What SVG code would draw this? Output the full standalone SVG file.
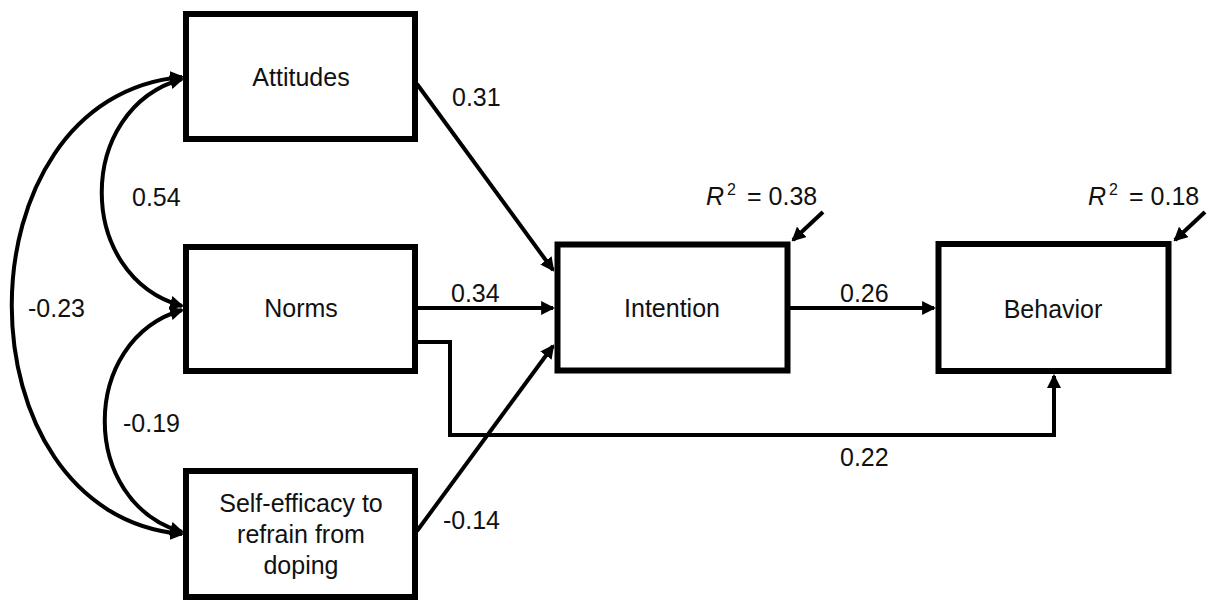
<svg xmlns="http://www.w3.org/2000/svg" width="1208" height="601" viewBox="0 0 1208 601">
<style>
.box{fill:#fff;stroke:#000;stroke-width:6}
.c{fill:none;stroke:#000;stroke-width:4}
.t{font-family:"Liberation Sans",Arial,sans-serif;font-size:25px;fill:#111}
.m{text-anchor:middle}
</style>
<defs>
<marker id="ah" viewBox="0 0 10 10" refX="8.5" refY="5" markerUnits="userSpaceOnUse" markerWidth="14" markerHeight="14" orient="auto-start-reverse">
<path d="M0,0 L10,5 L0,10 z" fill="#000"/>
</marker>
</defs>
<rect width="1208" height="601" fill="#fff"/>
<g id="connectors">
<path class="c" d="M182,79 C75,109 75,276 182,306" marker-start="url(#ah)" marker-end="url(#ah)"/>
<path class="c" d="M182,310 C79,340 79,502 182,532" marker-start="url(#ah)" marker-end="url(#ah)"/>
<path class="c" d="M182,77 C-45,97 -45,514 182,534" marker-start="url(#ah)" marker-end="url(#ah)"/>
<path class="c" d="M417,84 L553,270" marker-end="url(#ah)"/>
<path class="c" d="M417,308 L553,308" marker-end="url(#ah)"/>
<path class="c" d="M417,531 L553,346" marker-end="url(#ah)"/>
<path class="c" d="M790,308 L934,308" marker-end="url(#ah)"/>
<path class="c" d="M417,342 L450,342 L450,435 L1054,435 L1054,376" marker-end="url(#ah)"/>
<path class="c" d="M823,212 L793,240" marker-end="url(#ah)"/>
<path class="c" d="M1205,212 L1175,240" marker-end="url(#ah)"/>
<text class="t" x="452" y="106">0.31</text>
<text class="t" x="132" y="206">0.54</text>
<text class="t" x="28" y="317">-0.23</text>
<text class="t" x="123" y="432">-0.19</text>
<text class="t" x="451" y="302">0.34</text>
<text class="t" x="840" y="302">0.26</text>
<text class="t" x="840" y="466">0.22</text>
<text class="t" x="443" y="529">-0.14</text>
<text class="t" y="205"><tspan x="706" font-style="italic">R</tspan><tspan x="727" y="195" font-size="16">2</tspan><tspan x="747" y="205">= 0.38</tspan></text>
<text class="t" y="205"><tspan x="1088" font-style="italic">R</tspan><tspan x="1109" y="195" font-size="16">2</tspan><tspan x="1129" y="205">= 0.18</tspan></text>
</g>
<g id="attitudes"><rect class="box" x="186" y="14" width="229" height="125"/><text class="t m" x="301" y="86">Attitudes</text></g>
<g id="norms"><rect class="box" x="186" y="247" width="229" height="124"/><text class="t m" x="301" y="317">Norms</text></g>
<g id="selfefficacy"><rect class="box" x="186" y="471" width="229" height="126"/><text class="t m" x="301" y="512">Self-efficacy to</text><text class="t m" x="301" y="543">refrain from</text><text class="t m" x="301" y="574">doping</text></g>
<g id="intention"><rect class="box" x="557.5" y="244.5" width="230" height="126"/><text class="t m" x="672" y="317">Intention</text></g>
<g id="behavior"><rect class="box" x="938.5" y="244" width="230" height="127"/><text class="t m" x="1053" y="318">Behavior</text></g>
</svg>
